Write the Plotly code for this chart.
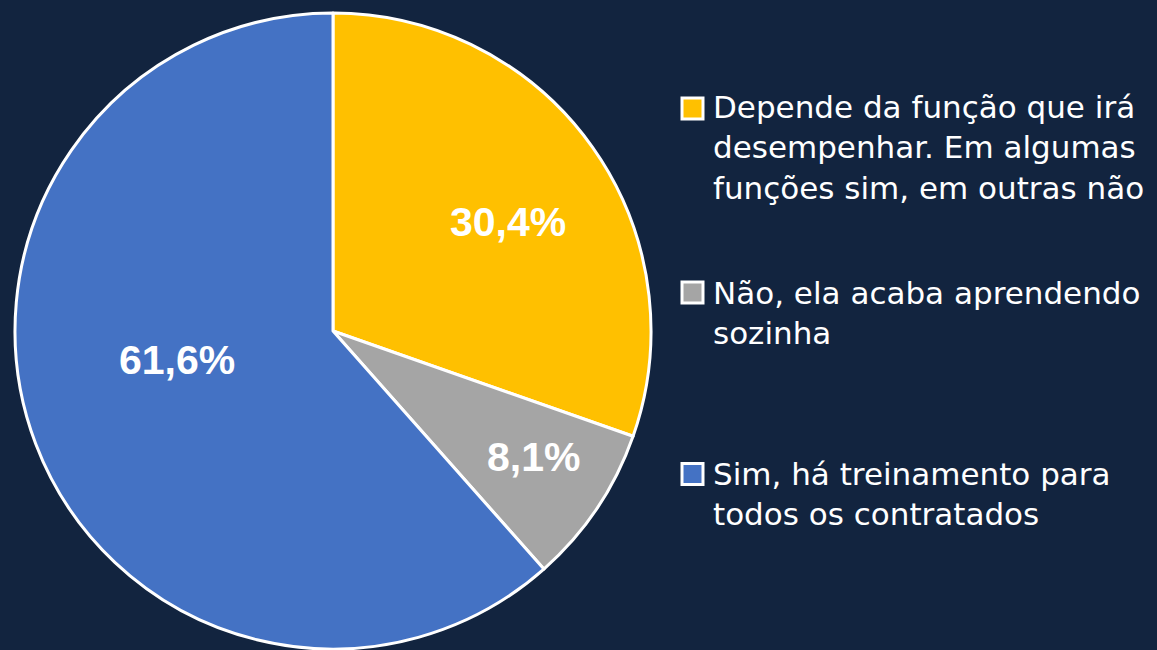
import plotly.graph_objects as go

# survey answers, clockwise from 12 o'clock
labels = [
    "Depende da função que irá<br>desempenhar. Em algumas<br>funções sim, em outras não",
    "Não, ela acaba aprendendo<br>sozinha",
    "Sim, há treinamento para<br>todos os contratados",
]
values = [30.4, 8.1, 61.6]
pct_text = ["30,4%", "8,1%", "61,6%"]
colors = ["#FFC000", "#A5A5A5", "#4472C4"]

bg = "#12243F"
W, H = 1157, 650

fig = go.Figure(go.Pie(
    labels=labels,
    values=values,
    textinfo="none",
    marker=dict(colors=colors, line=dict(color="white", width=3)),
    sort=False,
    direction="clockwise",
    rotation=0,
    showlegend=False,
    hoverinfo="label+percent",
    domain=dict(x=[15 / W, 651 / W], y=[1 / H, 637 / H]),
))

# percentage labels, placed where the original deck had them (px from top-left)
lab_pos = [(508, 222), (533, 457), (177, 360)]
for t, (px, py) in zip(pct_text, lab_pos):
    fig.add_annotation(text="<b>" + t + "</b>", xref="paper", yref="paper",
                       x=px / W, y=1 - py / H, xanchor="center", yanchor="middle",
                       showarrow=False,
                       font=dict(family="Liberation Sans, Arial", size=41, color="white"))

# legend drawn by hand: square swatch + wrapped label
leg_y = [148, 313, 494]   # vertical centre of each text block, px from top
sw_y = [108.5, 292.5, 474]  # centre of each swatch
for lab, col, ty, sy in zip(labels, colors, leg_y, sw_y):
    fig.add_shape(type="rect", xref="paper", yref="paper",
                  x0=682 / W, x1=703 / W, y0=1 - (sy + 10.5) / H, y1=1 - (sy - 10.5) / H,
                  fillcolor=col, line=dict(color="white", width=3))
    fig.add_annotation(text=lab, xref="paper", yref="paper",
                       x=711 / W, y=1 - ty / H, xanchor="left", yanchor="middle",
                       align="left", showarrow=False,
                       font=dict(family="DejaVu Sans", size=31, color="white"))

fig.update_layout(
    width=W, height=H,
    margin=dict(l=0, r=0, t=0, b=0),
    paper_bgcolor=bg, plot_bgcolor=bg,
)

fig.write_html("out.html", config={"displayModeBar": False},
               post_script="document.body.style.margin='0';"
                           "document.body.style.background='" + bg + "';")
